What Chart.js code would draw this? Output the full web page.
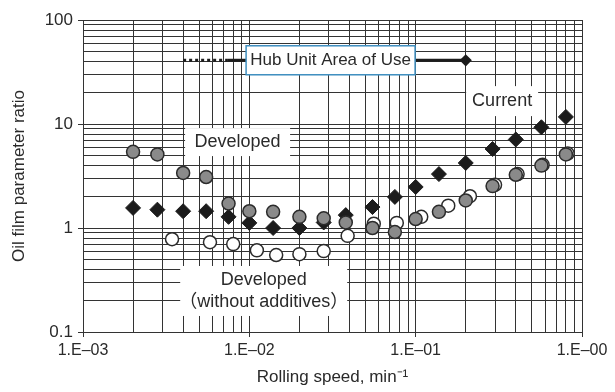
<!DOCTYPE html>
<html>
<head>
<meta charset="utf-8">
<script src="https://cdn.jsdelivr.net/npm/chart.js@4.4.1/dist/chart.umd.min.js"></script>
<style>
  html, body { margin: 0; padding: 0; background: #fff; }
  #wrap { width: 615px; height: 392px; }
</style>
</head>
<body>
<div id="wrap"><canvas id="chart" width="615" height="392"></canvas></div>
<script>
// Data (log-log)
const currentX = [2.0e-3, 2.8e-3, 4.0e-3, 5.5e-3, 7.5e-3, 1.0e-2, 1.39e-2, 2.0e-2, 2.8e-2, 3.8e-2, 5.5e-2, 7.5e-2, 1.0e-1, 1.38e-1, 2.0e-1, 2.9e-1, 4.0e-1, 5.7e-1, 8.0e-1];
const currentY = [1.56, 1.50, 1.45, 1.45, 1.28, 1.12, 1.0, 1.0, 1.13, 1.33, 1.59, 1.99, 2.48, 3.3, 4.22, 5.75, 7.1, 9.3, 11.7];

const developedX = [2.0e-3, 2.8e-3, 4.0e-3, 5.5e-3, 7.5e-3, 1.0e-2, 1.39e-2, 2.0e-2, 2.8e-2, 3.8e-2, 5.5e-2, 7.5e-2, 1.0e-1, 1.38e-1, 2.0e-1, 2.9e-1, 4.0e-1, 5.7e-1, 8.0e-1];
const developedY = [5.4, 5.1, 3.38, 3.09, 1.72, 1.45, 1.43, 1.28, 1.24, 1.13, 1.0, 0.915, 1.22, 1.43, 1.84, 2.53, 3.25, 3.98, 5.1];

const noAddX = [3.43e-3, 5.8e-3, 8.0e-3, 1.11e-2, 1.45e-2, 2.0e-2, 2.8e-2, 3.9e-2, 5.6e-2, 7.7e-2, 1.08e-1, 1.57e-1, 2.12e-1, 3.0e-1, 4.1e-1, 5.8e-1, 8.2e-1];
const noAddY = [0.78, 0.73, 0.70, 0.61, 0.55, 0.56, 0.60, 0.84, 1.1, 1.12, 1.28, 1.64, 2.02, 2.6, 3.3, 4.05, 5.2];

// Hub unit area of use range
const hubX = [4.0e-3, 7.35e-3, 2.0e-1];
const hubY = [41, 41, 41];

const xTickLabels = ['1.E\u201303', '1.E\u201302', '1.E\u201301', '1.E\u201300'];
const yTickLabels = ['0.1', '1', '10', '100'];

const toPoints = (xs, ys) => xs.map((x, i) => ({ x: x, y: ys[i] }));

// 1..9 x 10^n between min and max
function logTicks(min, max) {
    const out = [];
    for (let e = Math.round(Math.log10(min)); e < Math.round(Math.log10(max)); e++) {
        for (let s = 1; s < 10; s++) out.push(+(s * Math.pow(10, e)).toPrecision(3));
    }
    out.push(max);
    return out;
}
const isDecade = v => Math.abs(Math.log10(v) - Math.round(Math.log10(v))) < 1e-6;

const gridColor = '#333333';
const textColor = '#2a2a2a';
const font = "'Liberation Sans', Arial, 'Noto Sans CJK JP', sans-serif";

// text boxes, centred at data coords, sized in px
const notes = [
    { lines: ['Hub Unit Area of Use'], x: 3.08e-2, y: 41, w: 169, h: 29, border: '#3f8fc0', size: 17 },
    { lines: ['Developed'], x: 8.5e-3, y: 6.7, w: 105, h: 28, size: 18 },
    { lines: ['Current'], x: 0.331, y: 16.6, w: 72, h: 30, size: 18 },
    { lines: ['Developed', '\uFF08without additives\uFF09'], x: 1.22e-2, y: 0.248, w: 167, h: 50, size: 18 }
];

const notesPlugin = {
    id: 'notes',
    afterDatasetsDraw(chart) {
        const ctx = chart.ctx;
        const xs = chart.scales.x, ys = chart.scales.y;
        ctx.save();
        notes.forEach(n => {
            const cx = xs.getPixelForValue(n.x);
            const cy = ys.getPixelForValue(n.y);
            ctx.fillStyle = '#fff';
            ctx.fillRect(cx - n.w / 2, cy - n.h / 2, n.w, n.h);
            if (n.border) {
                ctx.strokeStyle = n.border;
                ctx.lineWidth = 1.5;
                ctx.strokeRect(cx - n.w / 2, cy - n.h / 2, n.w, n.h);
            }
            ctx.fillStyle = textColor;
            ctx.font = n.size + 'px ' + font;
            ctx.textAlign = 'center';
            ctx.textBaseline = 'middle';
            const lh = 22;
            n.lines.forEach((t, i) => {
                ctx.fillText(t, cx, cy + (i - (n.lines.length - 1) / 2) * lh);
            });
        });
        ctx.restore();
    }
};

new Chart(document.getElementById('chart'), {
    type: 'scatter',
    data: {
        datasets: [
            {
                label: 'Developed',
                data: toPoints(developedX, developedY),
                pointStyle: 'circle',
                pointRadius: 6.5,
                backgroundColor: '#8a8a8a',
                borderColor: '#2b2b2b',
                borderWidth: 1.5
            },
            {
                label: 'Current',
                data: toPoints(currentX, currentY),
                pointStyle: 'rectRot',
                pointRadius: 7.5,
                backgroundColor: '#1c1c1c',
                borderColor: '#1c1c1c',
                borderWidth: 1
            },
            {
                label: 'Developed (without additives)',
                data: toPoints(noAddX, noAddY),
                pointStyle: 'circle',
                pointRadius: 6.5,
                backgroundColor: '#ffffff',
                borderColor: '#2b2b2b',
                borderWidth: 1.5
            },
            {
                label: 'Hub Unit Area of Use',
                type: 'line',
                data: toPoints(hubX, hubY),
                showLine: true,
                borderColor: '#1c1c1c',
                borderWidth: 3,
                pointStyle: 'rectRot',
                pointRadius: [0, 0, 4],
                pointBackgroundColor: '#1c1c1c',
                pointBorderColor: '#1c1c1c',
                segment: {
                    borderDash: c => c.p0DataIndex === 0 ? [3, 3] : undefined
                }
            }
        ]
    },
    options: {
        responsive: false,
        animation: false,
        layout: { padding: { top: 20, right: 33, left: 0, bottom: 0 } },
        plugins: {
            legend: { display: false },
            tooltip: { enabled: false }
        },
        scales: {
            x: {
                type: 'logarithmic',
                min: 1e-3,
                max: 1,
                afterBuildTicks: s => { s.ticks = logTicks(1e-3, 1).map(v => ({ value: v })); },
                afterFit: s => { s.height = 60; },
                grid: {
                    color: gridColor,
                    lineWidth: 1,
                    tickLength: 5,
                    tickColor: c => (c.tick && isDecade(c.tick.value)) ? gridColor : 'rgba(0,0,0,0)'
                },
                border: { color: gridColor, width: 1 },
                ticks: {
                    autoSkip: false,
                    maxRotation: 0,
                    padding: 4,
                    color: textColor,
                    font: { family: font, size: 16 },
                    callback: v => isDecade(v) ? xTickLabels[Math.round(Math.log10(v)) + 3] : ''
                },
                title: {
                    display: true,
                    text: 'Rolling speed, min\u207B\u00B9',
                    color: textColor,
                    font: { family: font, size: 17 },
                    padding: { top: 0, bottom: 4 }
                }
            },
            y: {
                type: 'logarithmic',
                min: 0.1,
                max: 100,
                afterBuildTicks: s => { s.ticks = logTicks(0.1, 100).map(v => ({ value: v })); },
                afterFit: s => { s.width = 83; },
                grid: {
                    color: gridColor,
                    lineWidth: 1,
                    tickLength: 5,
                    tickColor: c => (c.tick && isDecade(c.tick.value)) ? gridColor : 'rgba(0,0,0,0)'
                },
                border: { color: gridColor, width: 1 },
                ticks: {
                    autoSkip: false,
                    padding: 5,
                    color: textColor,
                    font: { family: font, size: 17 },
                    callback: v => isDecade(v) ? yTickLabels[Math.round(Math.log10(v)) + 1] : ''
                },
                title: {
                    display: true,
                    text: 'Oil film parameter ratio',
                    color: textColor,
                    font: { family: font, size: 17 },
                    padding: { top: 9, bottom: 0 }
                }
            }
        }
    },
    plugins: [notesPlugin]
});
</script>
</body>
</html>
